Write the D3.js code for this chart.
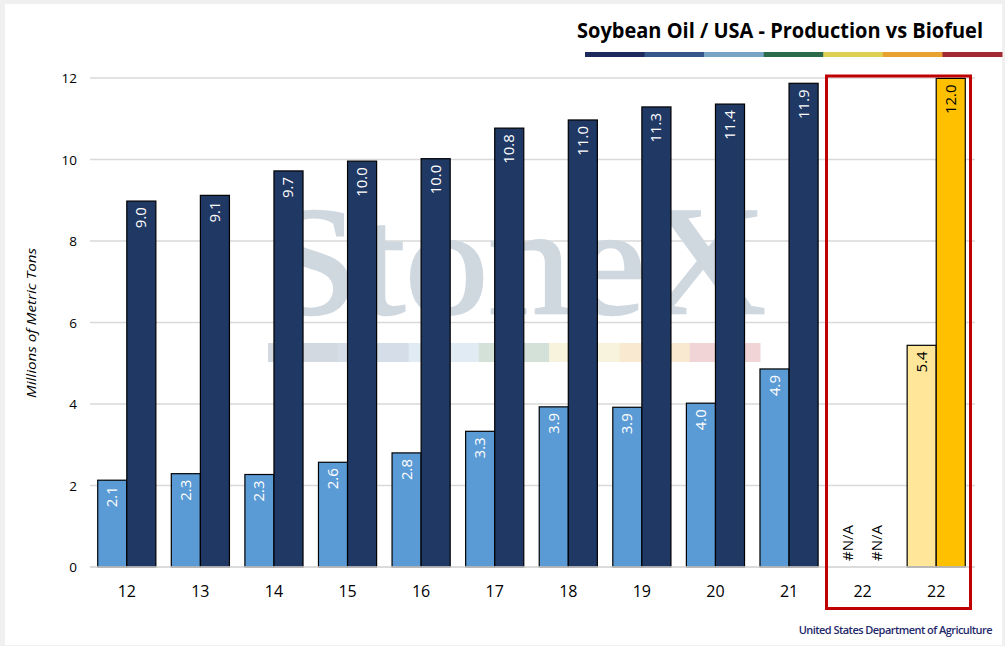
<!DOCTYPE html>
<html>
<head>
<meta charset="utf-8">
<script src="https://cdn.jsdelivr.net/npm/d3@7"></script>
<style>
  html, body { margin: 0; padding: 0; background: #f0f0f0; }
  svg { display: block; }
  text { font-family: "Open Sans", "DejaVu Sans", sans-serif; }
</style>
</head>
<body>
<svg id="chart"></svg>
<script>
const W = 1005, H = 646;

// data
const categories = ["12", "13", "14", "15", "16", "17", "18", "19", "20", "21", "22", "22 "];
const biofuelUse = [2.13, 2.29, 2.27, 2.57, 2.8, 3.33, 3.93, 3.92, 4.02, 4.86, null, 5.44];
const production = [8.98, 9.12, 9.72, 9.96, 10.02, 10.77, 10.97, 11.29, 11.36, 11.87, null, 11.99];
const yTicks = [0, 2, 4, 6, 8, 10, 12];
const titleColors = ["#1f2a5c", "#34568a", "#77a3c4", "#2b6a4a", "#dccf52", "#e8a22f", "#a32a33"];
const markColors = ["#d3d9e1", "#d5dee8", "#e1ebf3", "#d4e1d9", "#f7f3dc", "#f9e9d0", "#f1d4d6"];

const svg = d3.select("#chart").attr("width", W).attr("height", H);

// white panel
svg.append("rect")
    .attr("x", 5).attr("y", 4)
    .attr("width", 997).attr("height", 641)
    .attr("fill", "#fff");

// title + colour strip
svg.append("text")
    .attr("x", 983).attr("y", 38)
    .attr("text-anchor", "end")
    .attr("font-size", 21)
    .attr("font-weight", "bold")
    .attr("fill", "#000")
    .attr("textLength", 406)
    .attr("lengthAdjust", "spacingAndGlyphs")
    .text("Soybean Oil / USA - Production vs Biofuel");

const stripX = d3.scaleBand().domain(d3.range(titleColors.length)).range([585, 1002]);
svg.append("g").selectAll("rect")
    .data(titleColors)
    .enter().append("rect")
    .attr("x", (d, i) => stripX(i))
    .attr("y", 52)
    .attr("width", stripX.bandwidth() + 0.5)
    .attr("height", 5)
    .attr("fill", d => d);

// scales
const x = d3.scaleBand().domain(categories).range([90, 973]).paddingInner(0.21).paddingOuter(0.105);
const y = d3.scaleLinear().domain([0, 12]).range([567, 78]);
const sub = d3.scaleBand().domain(["bio", "prod"]).range([0, x.bandwidth()]);

// gridlines
svg.append("g").selectAll("line")
    .data(yTicks)
    .enter().append("line")
    .attr("x1", 90).attr("x2", 975)
    .attr("y1", d => y(d)).attr("y2", d => y(d))
    .attr("stroke", "#d9d9d9")
    .attr("stroke-width", 1.3);

// watermark
const wm = svg.append("g").attr("class", "watermark");
wm.append("text")
    .attr("x", 266).attr("y", 313)
    .attr("font-size", 154)
    .attr("fill", "#cfd7df")
    .attr("stroke", "#cfd7df")
    .attr("stroke-width", 2.5)
    .attr("textLength", 500)
    .attr("lengthAdjust", "spacingAndGlyphs")
    .style("font-family", "'Liberation Serif', 'DejaVu Serif', serif")
    .text("StoneX");
const markX = d3.scaleBand().domain(d3.range(markColors.length)).range([268, 760]);
wm.selectAll("rect")
    .data(markColors)
    .enter().append("rect")
    .attr("x", (d, i) => markX(i))
    .attr("y", 343)
    .attr("width", markX.bandwidth() + 0.5)
    .attr("height", 19)
    .attr("fill", d => d);

// y axis labels
svg.append("g").selectAll("text")
    .data(yTicks)
    .enter().append("text")
    .attr("x", 77)
    .attr("y", d => y(d) + 5)
    .attr("text-anchor", "end")
    .attr("font-size", 13.5)
    .attr("fill", "#000")
    .text(d => d);

svg.append("text")
    .attr("transform", "translate(36,323) rotate(-90)")
    .attr("text-anchor", "middle")
    .attr("font-size", 13)
    .attr("font-style", "italic")
    .attr("fill", "#000")
    .attr("textLength", 150)
    .attr("lengthAdjust", "spacingAndGlyphs")
    .text("Millions of Metric Tons");

// x axis labels
svg.append("g").selectAll("text")
    .data(categories)
    .enter().append("text")
    .attr("x", d => x(d) + x.bandwidth() / 2)
    .attr("y", 597)
    .attr("text-anchor", "middle")
    .attr("font-size", 16)
    .attr("fill", "#000")
    .text(d => d.trim());

// bars
const rows = categories.map((c, i) => ({
    cat: c,
    last: i === categories.length - 1,
    bio: biofuelUse[i],
    prod: production[i]
}));

const groups = svg.append("g").selectAll("g")
    .data(rows)
    .enter().append("g")
    .attr("transform", d => `translate(${x(d.cat)},0)`);

["bio", "prod"].forEach(key => {
    groups.filter(d => d[key] !== null)
        .append("rect")
        .attr("x", sub(key))
        .attr("y", d => y(d[key]))
        .attr("width", sub.bandwidth())
        .attr("height", d => y(0) - y(d[key]))
        .attr("fill", d => d.last ? (key === "bio" ? "#ffe699" : "#ffc000") : (key === "bio" ? "#5b9bd5" : "#203864"))
        .attr("stroke", "#000")
        .attr("stroke-width", 1.2);

    groups.append("text")
        .attr("transform", d => {
            const cx = sub(key) + sub.bandwidth() / 2 + 5;
            const ty = d[key] === null ? y(0) - 6 : y(d[key]) + 6;
            return `translate(${cx},${ty}) rotate(-90)`;
        })
        .attr("text-anchor", d => d[key] === null ? "start" : "end")
        .attr("font-size", 15)
        .attr("fill", d => (d.last || d[key] === null) ? "#000" : "#fff")
        .text(d => d[key] === null ? "#N/A" : d[key].toFixed(1));
});

// axis baseline
svg.append("line")
    .attr("x1", 90).attr("x2", 975)
    .attr("y1", y(0)).attr("y2", y(0))
    .attr("stroke", "#d9d9d9")
    .attr("stroke-width", 1.3);

// highlight box around the 22 forecasts
svg.append("rect")
    .attr("x", 826.5).attr("y", 76)
    .attr("width", 144).attr("height", 532.5)
    .attr("fill", "none")
    .attr("stroke", "#c00000")
    .attr("stroke-width", 3);

// source
svg.append("text")
    .attr("x", 992).attr("y", 634)
    .attr("text-anchor", "end")
    .attr("font-size", 11)
    .attr("font-weight", 600)
    .attr("letter-spacing", -0.55)
    .attr("fill", "#1f2a6b")
    .text("United States  Department of Agriculture");
</script>
</body>
</html>
